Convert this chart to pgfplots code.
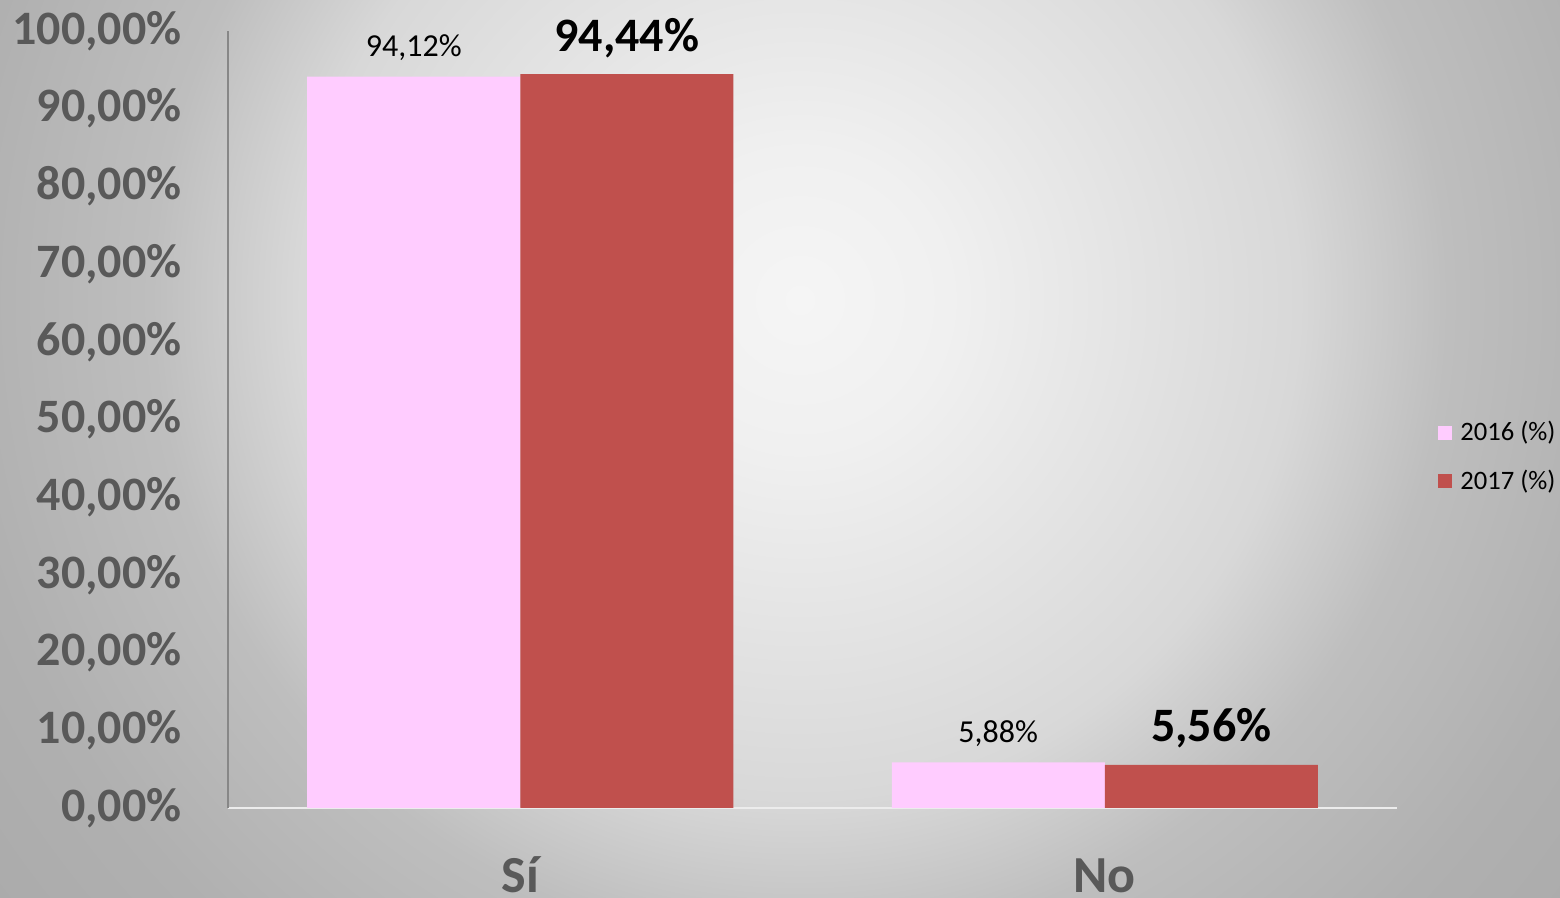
\documentclass[border=0pt]{standalone}
\usepackage{pgfplots}
\pgfplotsset{compat=1.18}
\usepackage{fontspec}
\setmainfont{Carlito}
\definecolor{pinkbar}{HTML}{FFCCFF}
\definecolor{redbar}{HTML}{C0504D}
\definecolor{ticktext}{HTML}{595959}
\definecolor{bgA}{HTML}{F5F5F5}
\definecolor{bgB}{HTML}{F0F0F0}
\definecolor{bgC}{HTML}{D8D8D8}
\definecolor{bgD}{HTML}{BEBEBE}
\definecolor{bgE}{HTML}{B0B0B0}
\definecolor{bgF}{HTML}{A8A8A8}
\pgfdeclareradialshading{bgshade}{\pgfpoint{0bp}{0bp}}{color(0bp)=(bgA); color(3.1bp)=(bgB); color(10.4bp)=(bgC); color(13.5bp)=(bgD); color(17.7bp)=(bgE); color(22.9bp)=(bgF); color(50bp)=(bgF)}
\begin{document}
\begin{tikzpicture}
\useasboundingbox (0,0) rectangle (780pt,449pt);
\clip (0,0) rectangle (780pt,449pt);
\fill[bgF] (0,0) rectangle (780pt,449pt);
\shade[shading=bgshade] (400pt,299pt) circle (600pt);
\begin{axis}[
  at={(114pt,45pt)}, anchor=south west,
  scale only axis, width=584.5pt, height=388.5pt,
  xmin=-0.5, xmax=1.5, ymin=0, ymax=100,
  axis x line=bottom, axis y line=left,
  axis line style={-},
  x axis line style={draw=white!85!gray, line width=0.8pt},
  y axis line style={draw=black!47, line width=0.8pt},
  major tick length=0pt,
  xtick={0,1}, xticklabels={Sí,No},
  ytick={0,10,...,100},
  yticklabels={{0,00\%},{10,00\%},{20,00\%},{30,00\%},{40,00\%},{50,00\%},{60,00\%},{70,00\%},{80,00\%},{90,00\%},{100,00\%}},
  yticklabel style={anchor=east, inner sep=0pt, xshift=-23pt, text=ticktext, font=\fontsize{24}{28}\selectfont\bfseries},
  xticklabel style={anchor=base, inner sep=0pt, yshift=-42.5pt, text=ticktext, font=\fontsize{26}{31}\selectfont\bfseries},
  ybar=0pt, bar width=106.5pt,
  legend style={at={(1.035,0.452)}, anchor=west, draw=none, fill=none,
    font=\fontsize{13.3}{15}\selectfont, row sep=9pt, inner sep=0pt},
  legend cell align=left,
  legend image code/.code={\fill[#1] (0pt,-3.5pt) rectangle (7pt,3.5pt); \path (9pt,0pt);},
]
\addplot[fill=pinkbar, draw=none, point meta=explicit symbolic,
  nodes near coords,
  nodes near coords style={anchor=base, inner sep=0pt, yshift=10pt, font=\fontsize{16}{19}\selectfont, text=black}]
  coordinates {(0,94.12) [94,12\%] (1,5.88) [5,88\%]};
\addplot[fill=redbar, draw=none, point meta=explicit symbolic,
  nodes near coords,
  nodes near coords style={anchor=base, inner sep=0pt, yshift=11.5pt, font=\fontsize{24}{28}\selectfont\bfseries, text=black}]
  coordinates {(0,94.44) [94,44\%] (1,5.56) [5,56\%]};
\legend{2016 (\%),2017 (\%)}
\end{axis}
\end{tikzpicture}
\end{document}
